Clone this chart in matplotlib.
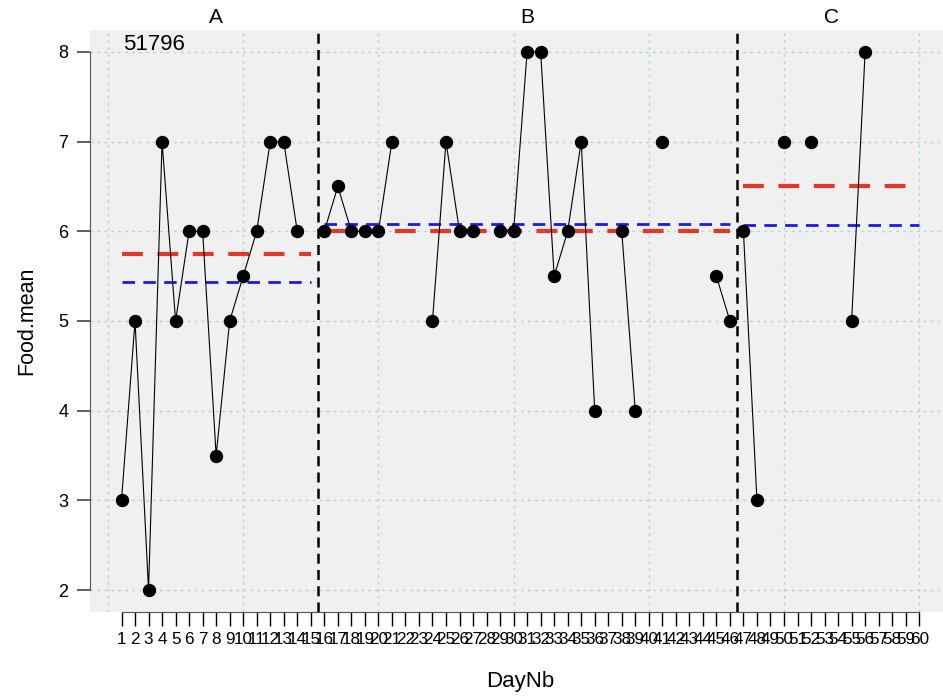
import numpy as np
import matplotlib.pyplot as plt

nan = np.nan

# day numbers and the observed Food.mean values (nan = no measurement)
days = list(range(1, 61))
food_mean = [
    3, 5, 2, 7, 5, 6, 6, 3.5, 5, 5.5, 6, 7, 7, 6, nan,                 # A
    6, 6.5, 6, 6, 6, 7, nan, nan, 5, 7, 6, 6, nan, 6, 6,               # B
    8, 8, 5.5, 6, 7, 4, nan, 6, 4, nan, 7, nan, nan, nan, 5.5, 5,      # B
    6, 3, nan, 7, nan, 7, nan, nan, 5, 8, nan, nan, nan, nan,          # C
]

phases = ['A', 'B', 'C']
phase_start = [1, 16, 47]
phase_end = [15, 46, 60]
phase_median = [5.75, 6.0, 6.5]
phase_trimmed = [5.44, 6.08, 6.07]
subject_id = '51796'


def plot_phases():
    plt.rcParams['font.family'] = ['Liberation Sans', 'DejaVu Sans']
    fig = plt.figure(figsize=(9.43, 6.96), dpi=100)
    ax = fig.add_axes([90 / 943, 1 - 612 / 696, 853 / 943, 582 / 696])
    ax.set_facecolor('#f0f0f0')

    # grid
    for gx in range(0, 61, 10):
        ax.axvline(gx, color='#b4d2e2', lw=1, ls=(0, (2, 3)), zorder=0)
    for gy in range(2, 9):
        ax.axhline(gy, color='#b4d2e2', lw=1, ls=(0, (2, 3)), zorder=0)

    x = np.array(days)
    y = np.array(food_mean, dtype=float)
    for i, name in enumerate(phases):
        sel = (x >= phase_start[i]) & (x <= phase_end[i])
        ax.plot(x[sel], y[sel], color='black', lw=0.8, zorder=3)
        ax.plot(x[sel], y[sel], 'o', color='black', ms=8.6, zorder=4)

        ax.plot([phase_start[i], phase_end[i]], [phase_median[i]] * 2,
                color='#e2382a', lw=3, ls=(0, (5, 3.5)), zorder=2)
        ax.plot([phase_start[i], phase_end[i]], [phase_trimmed[i]] * 2,
                color='#1a1ae6', lw=2, ls=(0, (4.5, 3)), zorder=2)

        mid = (phase_start[i] + phase_end[i]) / 2
        ax.text(mid, 1.022, name, transform=ax.get_xaxis_transform(),
                ha='center', va='center', fontsize=15)

    # phase changes
    for i in range(1, len(phases)):
        ax.axvline(phase_start[i] - 0.5, color='black', lw=1.8,
                   ls=(0, (4, 2.5)), zorder=5)

    ax.text(1.1, 8.08, subject_id, ha='left', va='center', fontsize=16)

    ax.set_xlim(-1.33, 61.76)
    ax.set_ylim(1.755, 8.245)

    for s in ['top', 'right']:
        ax.spines[s].set_visible(False)
    ax.spines['left'].set_bounds(2, 8)
    ax.spines['bottom'].set_bounds(1, 60)
    ax.spines['left'].set_color('#555555')
    ax.spines['bottom'].set_color('#555555')

    ax.set_xticks(days)
    ax.set_xticklabels([str(d) for d in days], fontsize=12.3)
    ax.set_yticks(range(2, 9))
    ax.tick_params(axis='x', length=10, width=1, pad=4.5)
    ax.tick_params(axis='y', length=9.5, width=1.2, pad=6, labelsize=13,
                   color='#444444')

    ax.set_xlabel('DayNb', fontsize=16, va='center')
    ax.xaxis.set_label_coords(430 / 853, -69 / 582)
    ax.set_ylabel('Food.mean', fontsize=15.5, va='center')
    ax.yaxis.set_label_coords(-63 / 853, 0.5)

    fig.savefig('out.png', dpi=100)


if __name__ == '__main__':
    plot_phases()
